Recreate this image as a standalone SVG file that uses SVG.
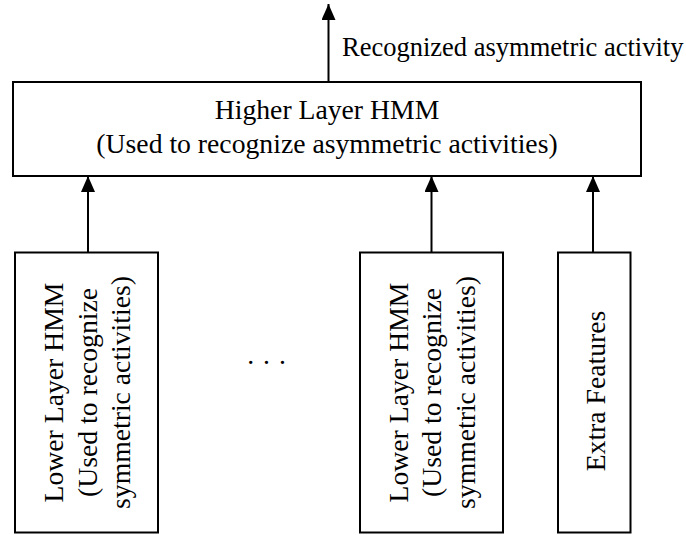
<svg xmlns="http://www.w3.org/2000/svg" width="686" height="535" viewBox="0 0 686 535">
  <defs>
    <marker id="arrow" viewBox="0 0 16 14" refX="16" refY="7" markerWidth="16" markerHeight="14" markerUnits="userSpaceOnUse" orient="auto">
      <path d="M0,0 L16,7 L0,14 Z" fill="#000"/>
    </marker>
  </defs>
  <style>
    .box { fill: #fff; stroke: #000; stroke-width: 2; }
    .t { font-family: "Liberation Serif", "Times New Roman", serif; font-size: 27.7px; fill: #000; text-anchor: middle; }
    .lbl { font-family: "Liberation Serif", "Times New Roman", serif; font-size: 26.5px; fill: #000; }
    .conn { stroke: #000; stroke-width: 2; fill: none; marker-end: url(#arrow); }
  </style>
  <rect width="686" height="535" fill="#fff"/>

  <g id="connectors">
    <line class="conn" x1="328.5" y1="82" x2="328.5" y2="4"/>
    <line class="conn" x1="88" y1="252" x2="88" y2="176"/>
    <line class="conn" x1="431.5" y1="252" x2="431.5" y2="176"/>
    <line class="conn" x1="593" y1="252" x2="593" y2="176"/>
  </g>

  <text class="lbl" x="342" y="56">Recognized asymmetric activity</text>

  <g id="higher">
    <rect class="box" x="13" y="82" width="628" height="94"/>
    <text class="t" x="327" y="119">Higher Layer HMM</text>
    <text class="t" x="327" y="153">(Used to recognize asymmetric activities)</text>
  </g>

  <g id="lower1">
    <rect class="box" x="15" y="252.5" width="143" height="280"/>
    <g transform="translate(86.5 392.5) rotate(-90)">
      <text class="t" x="0" y="-23.5">Lower Layer HMM</text>
      <text class="t" x="0" y="10">(Used to recognize</text>
      <text class="t" x="0" y="43.5">symmetric activities)</text>
    </g>
  </g>

  <g id="ellipsis">
    <text class="t" x="267" y="364" letter-spacing="1">. . .</text>
  </g>

  <g id="lower2">
    <rect class="box" x="360" y="252.5" width="143" height="280"/>
    <g transform="translate(431.5 392.5) rotate(-90)">
      <text class="t" x="0" y="-24">Lower Layer HMM</text>
      <text class="t" x="0" y="9.5">(Used to recognize</text>
      <text class="t" x="0" y="43.5">symmetric activities)</text>
    </g>
  </g>

  <g id="extra">
    <rect class="box" x="558" y="252.5" width="72.5" height="280"/>
    <g transform="translate(594.3 391) rotate(-90)">
      <text class="t" x="0" y="10.5">Extra Features</text>
    </g>
  </g>
</svg>
